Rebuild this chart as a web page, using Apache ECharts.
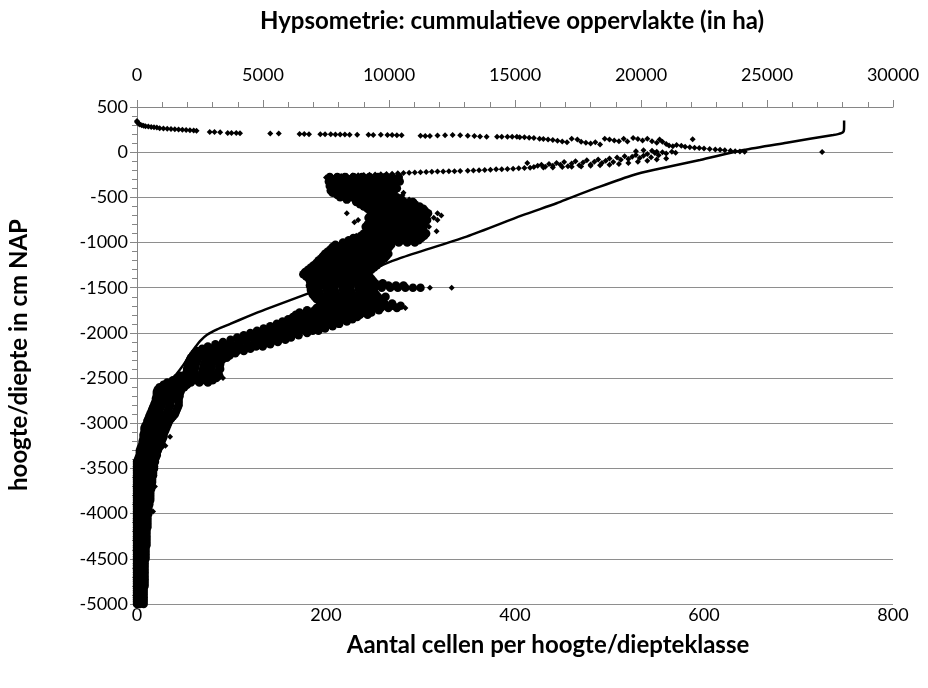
<!DOCTYPE html>
<html>
<head>
<meta charset="utf-8">
<script src="https://cdn.jsdelivr.net/npm/echarts@6/dist/echarts.min.js"></script>
<style>
html, body { margin: 0; padding: 0; background: #fff; }
#hypsoChart { width: 928px; height: 688px; }
</style>
</head>
<body>
<div id="hypsoChart"></div>
<script>
// aantal cellen per hoogteklasse, bovenste rij (boven NAP): [aantal, hoogte]
const surfaceRow = [
  [0, 345], [0, 335], [1, 325], [2, 315], [3, 305], [5, 298], [7, 292], [9, 288], [12, 284], [15, 280],
  [18, 276], [21, 272], [24, 266], [28, 262], [32, 260], [36, 257], [40, 254], [44, 250], [48, 248], [52, 246],
  [56, 243], [60, 240], [63, 236], [77, 222], [82, 223], [88, 221], [96, 212], [100, 213], [105, 211], [109, 209],
  [141, 208], [150, 207], [172, 200], [177, 201], [182, 199], [194, 199], [199, 198], [205, 199], [210, 197], [215, 196],
  [220, 195], [225, 193], [233, 192], [245, 193], [250, 191], [258, 192], [265, 190], [270, 189], [275, 188], [280, 186],
  [300, 182], [305, 180], [310, 178], [318, 185], [326, 188], [334, 190], [342, 188], [350, 182], [357, 179], [363, 173],
  [370, 172], [381, 172], [386, 171], [392, 172], [397, 170], [402, 171], [405, 166], [410, 164], [415, 160], [420, 158],
  [426, 150], [430, 145], [435, 140], [440, 135], [445, 126], [450, 118], [455, 110], [460, 150], [466, 140], [470, 115],
  [475, 105], [480, 95], [485, 110], [490, 85], [495, 150], [500, 140], [505, 130], [510, 120], [515, 150], [519, 118],
  [525, 158], [530, 145], [535, 130], [540, 150], [545, 120], [550, 105], [553, 140], [556, 115], [560, 90], [563, 75],
  [567, 65], [571, 80], [576, 70], [580, 60], [585, 55], [588, 143], [590, 50], [595, 45], [600, 40], [606, 35],
  [612, 30], [617, 26], [622, 22], [628, 15], [633, 10], [638, 8], [643, 5], [725, 2]
]

// tweede rij (net onder NAP): [aantal, diepte]
const shallowRow = [
  [200, -280], [204, -275], [210, -268], [216, -264], [222, -262], [228, -258], [234, -255], [240, -252], [246, -250], [252, -247],
  [258, -245], [264, -241], [270, -238], [276, -233], [282, -230], [288, -228], [294, -226], [300, -222], [306, -220], [312, -217],
  [318, -215], [324, -214], [330, -212], [336, -210], [342, -207], [350, -205], [356, -203], [362, -200], [368, -197], [374, -194],
  [380, -190], [386, -188], [392, -186], [398, -182], [404, -179], [410, -176], [413, -120], [416, -172], [420, -165], [424, -150],
  [428, -140], [430, -170], [432, -160], [436, -130], [440, -150], [440, -170], [444, -120], [448, -140], [450, -165], [452, -110],
  [456, -155], [460, -125], [460, -160], [464, -100], [468, -145], [470, -158], [472, -115], [476, -90], [480, -135], [480, -150],
  [484, -105], [488, -80], [490, -145], [492, -120], [496, -95], [500, -70], [500, -140], [504, -110], [508, -60], [510, -130],
  [512, -85], [516, -45], [520, -75], [520, -120], [524, -50], [528, -30], [528, 10], [530, -105], [532, -65], [536, -40],
  [536, 20], [540, -20], [540, -95], [544, -55], [545, 15], [548, -10], [550, -80], [550, 5], [552, -35], [556, 0],
  [560, -15], [560, -70], [566, 5], [570, -5]
]

// losse punten naast de wolk: [aantal, diepte]
const outlierPoints = [
  [282, -450], [281, -475], [288, -525], [222, -675], [318, -675], [322, -700], [314, -725], [234, -750], [318, -750],
  [230, -775], [309, -825], [317, -875], [232, -925], [333, -1500], [310, -1500], [284, -1725], [91, -2500],
  [35, -3150], [30, -3250], [19, -3700], [17, -3975]
]

// dieptewolk: [diepte, aantal, aantal, ...]
const cloudRows = [
  [-275, 204, 212, 220, 229, 238, 246, 255, 263, 270, 277],
  [-300, 207, 215, 224, 232, 241, 249, 258, 266, 274],
  [-325, 203, 211, 219, 228, 236, 245, 253, 262, 270, 278],
  [-350, 206, 214, 223, 231, 240, 248, 257, 265, 273],
  [-375, 204, 212, 221, 229, 238, 246, 254, 262, 271],
  [-400, 208, 216, 224, 233, 241, 250, 258, 266, 275],
  [-425, 205, 213, 222, 230, 239, 247, 256, 264, 272],
  [-450, 207, 215, 224, 232, 240, 249, 257, 265, 271],
  [-475, 212, 220, 229, 237, 245, 254, 262, 270],
  [-500, 215, 225, 234, 242, 251, 259, 267, 275],
  [-525, 222, 231, 240, 248, 256, 265, 273, 280],
  [-550, 232, 240, 249, 257, 266, 274, 283, 292],
  [-575, 236, 244, 252, 261, 269, 278, 286, 294],
  [-600, 240, 248, 257, 265, 274, 282, 290, 299],
  [-625, 244, 252, 261, 269, 278, 286, 295, 303],
  [-650, 247, 255, 264, 272, 280, 289, 297, 305],
  [-675, 250, 258, 267, 275, 284, 292, 300, 308],
  [-700, 247, 255, 263, 272, 280, 289, 297, 305],
  [-725, 245, 253, 262, 270, 279, 287, 296, 304],
  [-750, 248, 256, 265, 273, 282, 290, 299, 307],
  [-775, 246, 254, 263, 271, 280, 288, 296, 305],
  [-800, 244, 252, 261, 269, 278, 286, 294, 303],
  [-825, 242, 250, 259, 267, 276, 284, 293, 301],
  [-850, 245, 253, 262, 270, 278, 287, 295, 303],
  [-875, 243, 251, 260, 268, 277, 285, 294, 302],
  [-900, 240, 248, 257, 265, 274, 282, 290, 299, 306],
  [-925, 237, 245, 254, 262, 271, 279, 288, 296, 304],
  [-950, 229, 234, 242, 251, 259, 268, 276, 285, 293, 301],
  [-975, 224, 230, 239, 247, 256, 264, 273, 281, 290, 298],
  [-1000, 218, 226, 235, 243, 252, 260, 269, 277, 286, 294],
  [-1025, 210, 218, 227, 235, 244, 252, 261, 269],
  [-1050, 207, 215, 224, 232, 241, 249, 258, 267],
  [-1075, 205, 213, 222, 230, 239, 247, 256, 265],
  [-1100, 202, 210, 219, 227, 236, 244, 253, 262],
  [-1125, 199, 208, 216, 225, 233, 242, 250, 259, 266],
  [-1150, 197, 205, 214, 222, 231, 239, 248, 256, 264],
  [-1175, 195, 203, 212, 220, 229, 237, 246, 254, 262],
  [-1200, 192, 200, 209, 217, 226, 234, 243, 251, 259],
  [-1225, 190, 198, 207, 215, 224, 232, 241, 249, 257],
  [-1250, 187, 195, 204, 212, 221, 229, 238, 246, 254],
  [-1275, 184, 192, 201, 209, 218, 226, 235, 243, 251],
  [-1300, 181, 189, 198, 206, 215, 223, 232, 240, 248],
  [-1325, 178, 186, 195, 203, 212, 220, 229, 237, 245],
  [-1350, 176, 184, 193, 201, 210, 218, 227, 235, 243],
  [-1375, 179, 187, 196, 204, 213, 221, 230, 238, 246],
  [-1400, 182, 190, 199, 207, 216, 224, 233, 241, 248],
  [-1425, 183, 191, 200, 208, 217, 225, 234, 242, 250],
  [-1450, 185, 193, 202, 210, 219, 227, 236, 244, 252, 260],
  [-1475, 183, 191, 200, 208, 217, 225, 234, 242, 250, 258, 266, 274, 282],
  [-1500, 184, 192, 201, 209, 218, 226, 235, 243, 251, 259, 268, 276, 284, 292, 300],
  [-1525, 184, 192, 201, 209, 218, 226, 235, 243, 250],
  [-1550, 185, 193, 202, 210, 219, 227, 236, 244, 251],
  [-1575, 186, 194, 203, 211, 220, 228, 237, 245, 253],
  [-1600, 188, 196, 205, 213, 222, 230, 239, 247, 255, 263],
  [-1625, 190, 198, 207, 215, 224, 232, 241, 249, 257],
  [-1650, 193, 201, 210, 218, 227, 235, 244, 252, 260],
  [-1675, 195, 203, 212, 220, 229, 237, 246, 254, 262, 270],
  [-1700, 196, 204, 213, 221, 230, 238, 247, 255, 263, 271, 279],
  [-1725, 190, 198, 207, 215, 224, 232, 241, 249, 258, 266, 275],
  [-1750, 180, 188, 197, 205, 214, 222, 231, 239, 247, 256],
  [-1775, 172, 180, 189, 197, 206, 214, 223, 231, 240, 248],
  [-1800, 168, 176, 185, 193, 202, 210, 219, 227, 236, 244],
  [-1825, 165, 173, 182, 190, 199, 207, 216, 224, 233],
  [-1850, 160, 168, 177, 185, 194, 202, 211, 219, 228],
  [-1875, 154, 162, 171, 179, 188, 196, 205, 213, 222],
  [-1900, 148, 156, 165, 173, 182, 190, 199, 207, 214],
  [-1925, 141, 149, 158, 166, 175, 183, 192, 200, 207],
  [-1950, 134, 142, 151, 159, 168, 176, 185, 193, 199],
  [-1975, 127, 135, 144, 152, 161, 169, 178, 186, 192],
  [-2000, 120, 128, 137, 145, 154, 162, 171, 180],
  [-2025, 113, 121, 130, 138, 147, 155, 164, 171],
  [-2050, 106, 114, 123, 131, 140, 148, 157, 163],
  [-2075, 99, 107, 116, 124, 133, 141, 150, 157],
  [-2100, 91, 99, 108, 116, 125, 133, 142, 149],
  [-2125, 83, 91, 100, 108, 117, 125, 134, 141],
  [-2150, 75, 83, 92, 100, 109, 117, 126, 133],
  [-2175, 69, 77, 86, 94, 103, 111, 120],
  [-2200, 64, 72, 81, 89, 98, 106, 113],
  [-2225, 61, 69, 78, 86, 95, 104],
  [-2250, 59, 67, 76, 84, 92, 98],
  [-2275, 57, 65, 74, 82, 90, 95],
  [-2300, 56, 64, 73, 81, 90],
  [-2325, 55, 63, 72, 80, 88],
  [-2350, 54, 62, 71, 79, 88],
  [-2375, 54, 62, 71, 79, 87],
  [-2400, 53, 61, 70, 78, 88],
  [-2425, 53, 61, 70, 78, 86],
  [-2450, 52, 60, 69, 77, 86],
  [-2475, 46, 54, 63, 71, 80, 87],
  [-2500, 42, 50, 59, 67, 76, 84],
  [-2525, 38, 46, 55, 63, 72, 80],
  [-2550, 32, 40, 49, 57, 66, 75],
  [-2575, 28, 36, 45, 53],
  [-2600, 24, 32, 41, 50],
  [-2625, 22, 30, 39, 47],
  [-2650, 21, 29, 38, 46],
  [-2675, 21, 29, 37, 45],
  [-2700, 21, 29, 37, 45],
  [-2725, 20, 28, 36, 44],
  [-2750, 20, 28, 36, 44],
  [-2775, 19, 27, 35, 44],
  [-2800, 18, 26, 35, 44],
  [-2825, 17, 25, 34, 43],
  [-2850, 16, 24, 33, 42],
  [-2875, 15, 23, 32, 41],
  [-2900, 14, 22, 31, 40],
  [-2925, 13, 21, 29, 38],
  [-2950, 12, 20, 28, 36],
  [-2975, 11, 19, 27, 34],
  [-3000, 11, 18, 26, 33],
  [-3025, 9, 17, 25, 32],
  [-3050, 8, 16, 24, 31],
  [-3075, 8, 16, 23, 30],
  [-3100, 8, 15, 22, 29],
  [-3125, 7, 14, 21, 28],
  [-3150, 7, 14, 21, 28],
  [-3175, 7, 14, 21, 27],
  [-3200, 6, 13, 20, 26],
  [-3225, 6, 13, 19, 25],
  [-3250, 5, 12, 18, 25],
  [-3275, 4, 11, 17, 23],
  [-3300, 3, 10, 16, 22],
  [-3325, 3, 10, 16, 21],
  [-3350, 3, 9, 15, 21],
  [-3375, 2, 9, 15, 20],
  [-3400, 1, 8, 14, 19],
  [-3425, 0, 7, 13, 19],
  [-3450, 0, 7, 13, 18],
  [-3475, 0, 6, 12, 18],
  [-3500, 0, 6, 12, 18],
  [-3525, 0, 6, 12, 17],
  [-3550, 0, 6, 11, 17],
  [-3575, 0, 6, 11, 17],
  [-3600, 0, 6, 11, 16],
  [-3625, 0, 5, 11, 16],
  [-3650, 0, 5, 10, 16],
  [-3675, 0, 5, 10, 15],
  [-3700, 0, 5, 10, 15],
  [-3725, 0, 5, 10, 15],
  [-3750, 0, 5, 10, 14],
  [-3775, 0, 5, 9, 14],
  [-3800, 0, 5, 9, 14],
  [-3825, 0, 5, 9, 14],
  [-3850, 0, 5, 9, 14],
  [-3875, 0, 5, 9, 13],
  [-3900, 0, 4, 9, 13],
  [-3925, 0, 4, 8, 12],
  [-3950, 0, 4, 8, 12],
  [-3975, 0, 4, 8, 12],
  [-4000, 0, 4, 8, 12],
  [-4025, 0, 4, 8, 11],
  [-4050, 0, 4, 8, 11],
  [-4075, 0, 4, 8, 11],
  [-4100, 0, 4, 8, 11],
  [-4125, 0, 4, 8, 11],
  [-4150, 0, 4, 8, 11],
  [-4175, 0, 4, 8, 10],
  [-4200, 0, 4, 8, 10],
  [-4225, 0, 4, 7, 10],
  [-4250, 0, 4, 7, 10],
  [-4275, 0, 4, 7, 10],
  [-4300, 0, 4, 7, 10],
  [-4325, 0, 4, 7, 10],
  [-4350, 0, 4, 7, 10],
  [-4375, 0, 4, 7, 9],
  [-4400, 0, 4, 7, 9],
  [-4425, 0, 4, 7, 9],
  [-4450, 0, 4, 7, 9],
  [-4475, 0, 4, 7, 9],
  [-4500, 0, 4, 7, 9],
  [-4525, 0, 4, 8],
  [-4550, 0, 4, 8],
  [-4575, 0, 4, 8],
  [-4600, 0, 4, 8],
  [-4625, 0, 4, 8],
  [-4650, 0, 4, 8],
  [-4675, 0, 4, 8],
  [-4700, 0, 4, 8],
  [-4725, 0, 4, 8],
  [-4750, 0, 4, 8],
  [-4775, 0, 4, 8],
  [-4800, 0, 4, 8],
  [-4825, 0, 3, 7],
  [-4850, 0, 3, 7],
  [-4875, 0, 3, 7],
  [-4900, 0, 3, 7],
  [-4925, 0, 3, 7],
  [-4950, 0, 3, 7],
  [-4975, 0, 3, 7],
  [-5000, 0, 3, 7]
]

// hypsometrie: cumulatieve oppervlakte (ha) per diepte
const areaDepth = [350, 300, 250, 225, 210, 200, 190, 105, 24, -86, -197, -252, -381, -491, -565, -700, -934,
  -1173, -1303, -1480, -1740, -1820, -1900, -1960, -2020, -2090, -2151, -2250, -2354, -2556, -2700, -3000, -3500, -4000, -4500, -5000]
const areaCum = [28060, 28060, 28055, 28030, 27950, 27820, 27630, 25780, 24060, 22340, 20490, 19700, 18370, 17320, 16650, 15280, 13080,
  10440, 9250, 7600, 5100, 4380, 3700, 3180, 2780, 2500, 2330, 2080, 1840, 1310, 1000, 650, 330, 150, 50, 0]

const bottomTicks = [0, 200, 400, 600, 800]
const topTicks = [0, 5000, 10000, 15000, 20000, 25000, 30000]
const depthTicks = [-5000, 500]

const axisGray = '#868686'
const gridGray = '#8e8e8e'
const fontFamily = 'Lato'
const plainNumber = v => String(v)

const rowData = surfaceRow.concat(shallowRow, outlierPoints)
const cloudData = []
cloudRows.forEach(row => {
  row.slice(1).forEach(c => cloudData.push([c, row[0]]))
})
const lineData = areaDepth.map((d, i) => [areaCum[i], d])

const titleStyle = {
  fontFamily,
  fontSize: 24,
  fontWeight: 'bold',
  fill: '#000',
  textAlign: 'center',
  textVerticalAlign: 'middle'
}

const myChart = echarts.init(document.getElementById('hypsoChart'))
const option = {
  animation: false,
  backgroundColor: '#fff',
  grid: {
    left: 137,
    right: 35,
    top: 107,
    bottom: 84
  },
  graphic: [
    { type: 'text', x: 512, y: 21, style: { ...titleStyle, text: 'Hypsometrie: cummulatieve oppervlakte (in ha)' } },
    { type: 'text', x: 548, y: 645, style: { ...titleStyle, text: 'Aantal cellen per hoogte/diepteklasse' } },
    { type: 'text', x: 19, y: 355, rotation: Math.PI / 2, style: { ...titleStyle, text: 'hoogte/diepte in cm NAP' } }
  ],
  xAxis: [
    {
      type: 'value',
      position: 'bottom',
      min: bottomTicks[0],
      max: bottomTicks[bottomTicks.length - 1],
      interval: bottomTicks[1] - bottomTicks[0],
      axisLine: { show: false, onZero: false },
      axisTick: { show: false },
      splitLine: { show: false },
      axisLabel: { fontFamily, fontSize: 18, color: '#000', margin: 2, formatter: plainNumber }
    },
    {
      type: 'value',
      position: 'top',
      min: topTicks[0],
      max: topTicks[topTicks.length - 1],
      interval: topTicks[1] - topTicks[0],
      axisLine: { show: true, onZero: false, lineStyle: { color: axisGray, width: 1 } },
      axisTick: { show: true, length: 7, lineStyle: { color: axisGray } },
      minorTick: { show: true, splitNumber: 5, length: 5, lineStyle: { color: axisGray } },
      splitLine: { show: false },
      axisLabel: { fontFamily, fontSize: 18, color: '#000', margin: 23, formatter: plainNumber }
    }
  ],
  yAxis: {
    type: 'value',
    min: depthTicks[0],
    max: depthTicks[1],
    interval: 500,
    axisLine: { show: true, onZero: false, lineStyle: { color: axisGray, width: 1 } },
    axisTick: { show: true, length: 7, lineStyle: { color: axisGray } },
    minorTick: { show: true, splitNumber: 5, length: 5, lineStyle: { color: axisGray } },
    splitLine: { show: true, lineStyle: { color: gridGray, width: 1 } },
    axisLabel: { fontFamily, fontSize: 18, color: '#000', margin: 9, formatter: plainNumber }
  },
  series: [
    {
      name: 'Hypsometrie',
      type: 'line',
      xAxisIndex: 1,
      yAxisIndex: 0,
      data: lineData,
      showSymbol: false,
      smooth: 0.25,
      lineStyle: { color: '#000', width: 2.5 },
      z: 2
    },
    {
      name: 'Aantal cellen (rijen)',
      type: 'scatter',
      xAxisIndex: 0,
      yAxisIndex: 0,
      data: rowData,
      symbol: 'diamond',
      symbolSize: 6,
      itemStyle: { color: '#000', opacity: 1 },
      z: 3
    },
    {
      name: 'Aantal cellen (wolk)',
      type: 'scatter',
      xAxisIndex: 0,
      yAxisIndex: 0,
      data: cloudData,
      symbol: 'circle',
      symbolSize: 8.5,
      itemStyle: { color: '#000', opacity: 1 },
      z: 3
    }
  ]
}
myChart.setOption(option)
</script>
</body>
</html>
